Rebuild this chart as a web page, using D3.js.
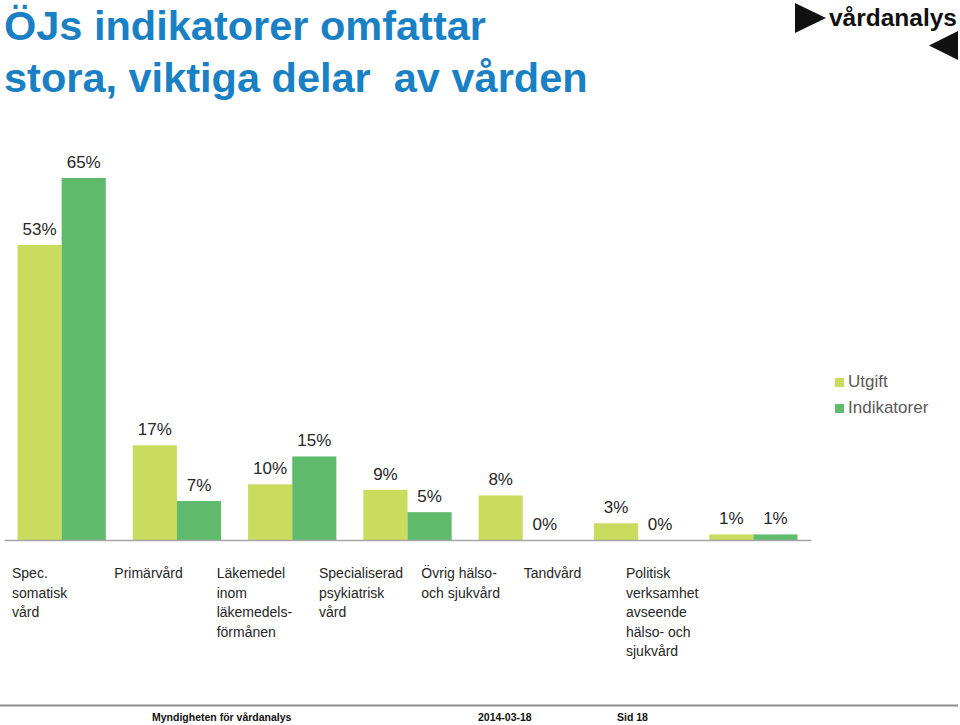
<!DOCTYPE html>
<html>
<head>
<meta charset="utf-8">
<script src="https://cdn.jsdelivr.net/npm/d3@7"></script>
<style>
  html, body { margin: 0; padding: 0; background: #fff; }
  svg { display: block; }
</style>
</head>
<body>
<svg id="chart" width="960" height="725"></svg>
<script>
const categories = [
  "Spec. somatisk vård",
  "Primärvård",
  "Läkemedel inom läkemedelsförmånen",
  "Specialiserad psykiatrisk vård",
  "Övrig hälso- och sjukvård",
  "Tandvård",
  "Politisk verksamhet avseende hälso- och sjukvård"
];
const categoryLines = [
  ["Spec.", "somatisk", "vård"],
  ["Primärvård"],
  ["Läkemedel", "inom", "läkemedels-", "förmånen"],
  ["Specialiserad", "psykiatrisk", "vård"],
  ["Övrig hälso-", "och sjukvård"],
  ["Tandvård"],
  ["Politisk", "verksamhet", "avseende", "hälso- och", "sjukvård"]
];
const seriesNames = ["Utgift", "Indikatorer"];
const utgift = [53, 17, 10, 9, 8, 3, 1];
const indikatorer = [65, 7, 15, 5, 0, 0, 1];
const titleLines = ["ÖJs indikatorer omfattar", "stora, viktiga delar  av vården"];
const footerTexts = ["Myndigheten för vårdanalys", "2014-03-18", "Sid 18"];

const colors = { "Utgift": "#c9dc5e", "Indikatorer": "#5fbb6b" };
const FONT = "'Liberation Sans', Arial, sans-serif";

const svg = d3.select("#chart");

// Title
svg.append("g").selectAll("text").data(titleLines).join("text")
  .attr("x", 4).attr("y", (d, i) => 40 + i * 52)
  .attr("font-family", FONT).attr("font-weight", "bold")
  .attr("font-size", 41.5).attr("fill", "#1a80c4")
  .style("white-space", "pre")
  .text(d => d);

// Logo
const logo = svg.append("g");
logo.append("path").attr("d", "M795,3 L795,33 L826,18 Z").attr("fill", "#111");
logo.append("path").attr("d", "M958,31 L958,60 L929,45.5 Z").attr("fill", "#111");
logo.append("text").attr("x", 829).attr("y", 26)
  .attr("font-family", FONT).attr("font-weight", "bold")
  .attr("font-size", 24).attr("fill", "#111")
  .attr("textLength", 128).attr("lengthAdjust", "spacingAndGlyphs")
  .text("vårdanalys");

// Scales
const x0 = d3.scaleBand().domain(categories).range([4, 811])
  .paddingInner(0.234).paddingOuter(0.117);
const x1 = d3.scaleBand().domain(seriesNames).range([0, x0.bandwidth()]).padding(0);
const y = d3.scaleLinear().domain([0, 65]).range([540, 178]);

const data = categories.map((c, i) => ({
  cat: c,
  values: [
    { key: "Utgift", value: utgift[i] },
    { key: "Indikatorer", value: indikatorer[i] }
  ]
}));

const groups = svg.append("g").selectAll("g").data(data).join("g")
  .attr("transform", d => `translate(${x0(d.cat)},0)`);

groups.selectAll("rect").data(d => d.values).join("rect")
  .attr("x", d => x1(d.key))
  .attr("y", d => y(d.value))
  .attr("width", x1.bandwidth())
  .attr("height", d => y(0) - y(d.value))
  .attr("fill", d => colors[d.key]);

groups.selectAll("text.val").data(d => d.values).join("text")
  .attr("class", "val")
  .attr("x", d => x1(d.key) + x1.bandwidth() / 2)
  .attr("y", d => y(d.value) - 10)
  .attr("text-anchor", "middle")
  .attr("font-family", FONT).attr("font-size", 17).attr("fill", "#262626")
  .text(d => d.value + "%");

// Baseline axis
const axis = svg.append("g").attr("transform", `translate(0,${y(0)})`)
  .call(d3.axisBottom(x0).tickSize(0).tickSizeOuter(0).tickFormat(""));
axis.select(".domain").attr("stroke", "#a6a6a6").attr("stroke-width", 1.5);
axis.selectAll(".tick").remove();

// Category labels
const xl = d3.scalePoint().domain(categories).range([12, 626]);
const labels = svg.append("g").selectAll("text").data(categories).join("text")
  .attr("x", d => xl(d)).attr("y", 578)
  .attr("font-family", FONT).attr("font-size", 14).attr("fill", "#262626");
labels.each(function(d, i) {
  d3.select(this).selectAll("tspan").data(categoryLines[i]).join("tspan")
    .attr("x", xl(d)).attr("dy", (t, j) => j === 0 ? 0 : 19.5)
    .text(t => t);
});

// Legend
const legend = svg.append("g").selectAll("g").data(seriesNames).join("g")
  .attr("transform", (d, i) => `translate(835,${378 + i * 26})`);
legend.append("rect").attr("width", 9).attr("height", 9).attr("fill", d => colors[d]);
legend.append("text").attr("x", 13).attr("y", 9)
  .attr("font-family", FONT).attr("font-size", 17).attr("fill", "#595959")
  .text(d => d);

// Footer
svg.append("line").attr("x1", 0).attr("x2", 958).attr("y1", 705.5).attr("y2", 705.5)
  .attr("stroke", "#8c8c8c").attr("stroke-width", 2);
const footerX = [152, 478, 617];
svg.append("g").selectAll("text").data(footerTexts).join("text")
  .attr("x", (d, i) => footerX[i]).attr("y", 721)
  .attr("font-family", FONT).attr("font-weight", "bold")
  .attr("font-size", 10.5).attr("fill", "#111")
  .text(d => d);
</script>
</body>
</html>
